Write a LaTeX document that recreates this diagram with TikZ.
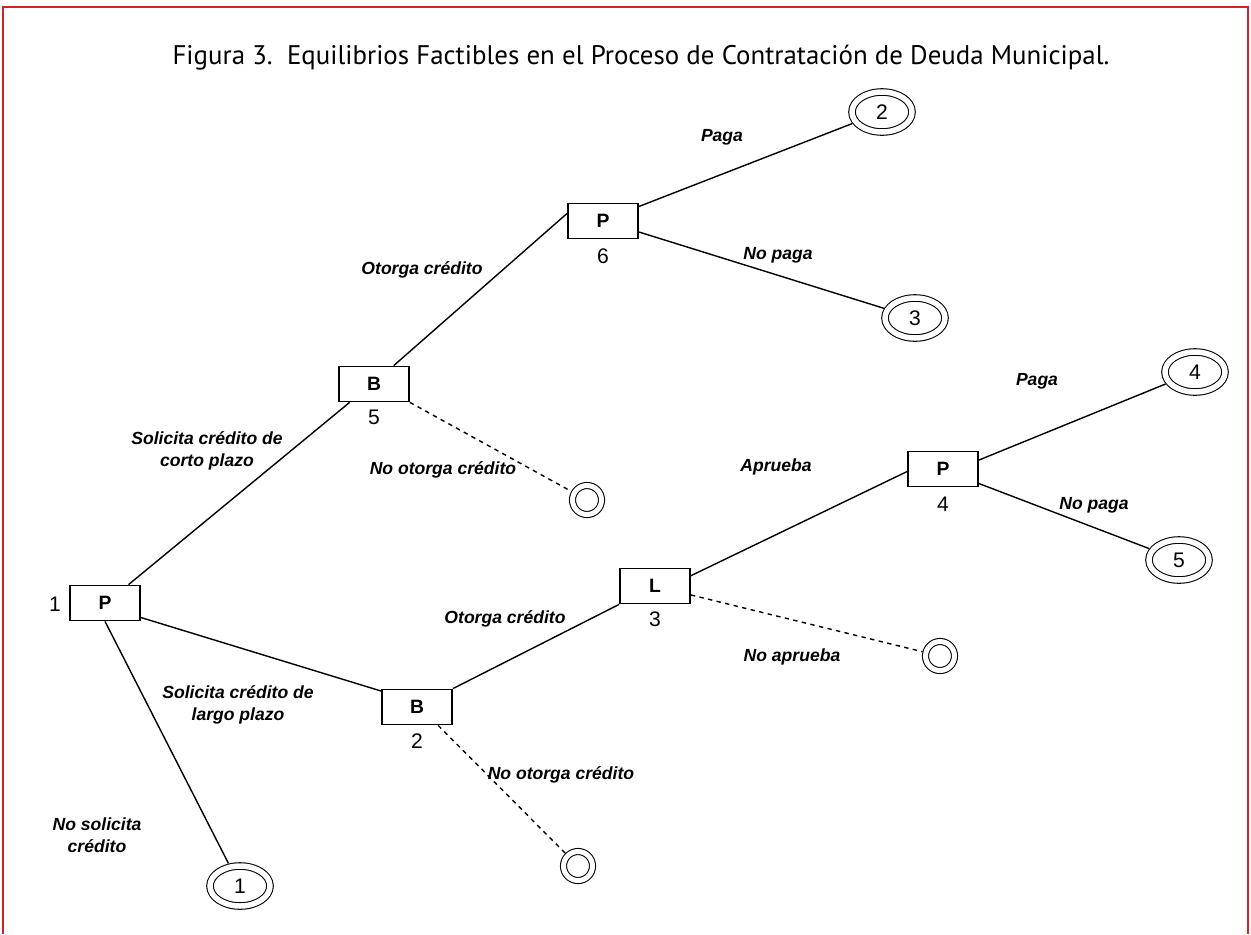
\documentclass[tikz,border=0pt]{standalone}
\usepackage{fontspec}
\setmainfont{Liberation Sans}
\newfontfamily\titlefont{PT Sans}
\usetikzlibrary{shapes.geometric}

\definecolor{framered}{RGB}{210,35,42}

\tikzset{
  movebox/.style={draw, line width=1pt, minimum width=1.4cm, minimum height=0.7cm, inner sep=0pt, font=\fontsize{11}{13}\selectfont\bfseries},
  payoff/.style={ellipse, draw, double, double distance=0.11cm, line width=0.6pt, minimum width=1.2cm, minimum height=0.8cm, inner sep=0pt, outer sep=0.08cm, font=\fontsize{12}{14}\selectfont},
  endleaf/.style={circle, draw, double, double distance=0.1cm, line width=0.6pt, minimum size=0.58cm, inner sep=0pt, outer sep=0.07cm},
  actlbl/.style={font=\fontsize{10}{12.5}\selectfont\bfseries\itshape, align=center},
  movenum/.style={font=\fontsize{12}{14}\selectfont},
  branch/.style={line width=0.8pt},
  nobranch/.style={line width=0.8pt, dash pattern=on 2.5pt off 2.5pt},
}

\begin{document}
\begin{tikzpicture}[x=0.02cm, y=-0.02cm]
    \useasboundingbox (0,0) rectangle (1251,934);
    \draw[framered, line width=1.6pt] (3,934) -- (3,7) -- (1248,7) -- (1248,934);

    \node[font=\titlefont\fontsize{15.3}{17}\selectfont] (title) at (641,58) {Figura 3.\ \ Equilibrios Factibles en el Proceso de Contratación de Deuda Municipal.};

    % decision nodes
    \node[movebox] (p1) at (105,603) {P};
    \node[movebox] (b5) at (374,384) {B};
    \node[movebox] (p6) at (603,221) {P};
    \node[movebox] (b2) at (417,707) {B};
    \node[movebox] (l3) at (655,586) {L};
    \node[movebox] (p4) at (943,469) {P};

    \node[movenum] (n1) at (55,604) {1};
    \node[movenum] (n5) at (374,417) {5};
    \node[movenum] (n6) at (603,256) {6};
    \node[movenum] (n2) at (417,741) {2};
    \node[movenum] (n3) at (655,619) {3};
    \node[movenum] (n4) at (943,504) {4};

    % outcomes
    \node[payoff] (t1) at (240,886) {1};
    \node[payoff] (t2) at (882,112) {2};
    \node[payoff] (t3) at (915,318) {3};
    \node[payoff] (t4) at (1195,372) {4};
    \node[payoff] (t5) at (1179,560) {5};
    \node[endleaf] (c1) at (587,500) {};
    \node[endleaf] (c2) at (940,656) {};
    \node[endleaf] (c3) at (578,866) {};

    % branches
    \draw[branch] (p1.38) -- (b5.217);
    \draw[branch] (b5.43) -- (p6.168);
    \draw[branch] (p6.22) -- (t2);
    \draw[branch] (p6.343) -- (t3);
    \draw[nobranch] (b5.south east) -- (c1);
    \draw[branch] (p1.338) -- (b2.156);
    \draw[branch] (p1.south) -- (t1);
    \draw[branch] (b2.north east) -- (l3.south west);
    \draw[nobranch] (b2.319) -- (c3);
    \draw[branch] (l3.16) -- (p4.184);
    \draw[nobranch] (l3.346) -- (c2);
    \draw[branch] (p4.14) -- (t4);
    \draw[branch] (p4.338) -- (t5);

    % action labels
    \node[actlbl] (a1) at (722,137) {Paga};
    \node[actlbl] (a2) at (778,255) {No paga};
    \node[actlbl] (a3) at (422,270) {Otorga crédito};
    \node[actlbl] (a4) at (207,451) {Solicita crédito de\\corto plazo};
    \node[actlbl] (a5) at (443,470) {No otorga crédito};
    \node[actlbl] (a6) at (1037,381) {Paga};
    \node[actlbl] (a7) at (1094,505) {No paga};
    \node[actlbl] (a8) at (776,467) {Aprueba};
    \node[actlbl] (a9) at (505,619) {Otorga crédito};
    \node[actlbl] (a10) at (792,657) {No aprueba};
    \node[actlbl] (a11) at (238,705) {Solicita crédito de\\largo plazo};
    \node[actlbl] (a12) at (561,775) {No otorga crédito};
    \node[actlbl] (a13) at (97,835) {No solicita\\crédito};
\end{tikzpicture}
\end{document}
